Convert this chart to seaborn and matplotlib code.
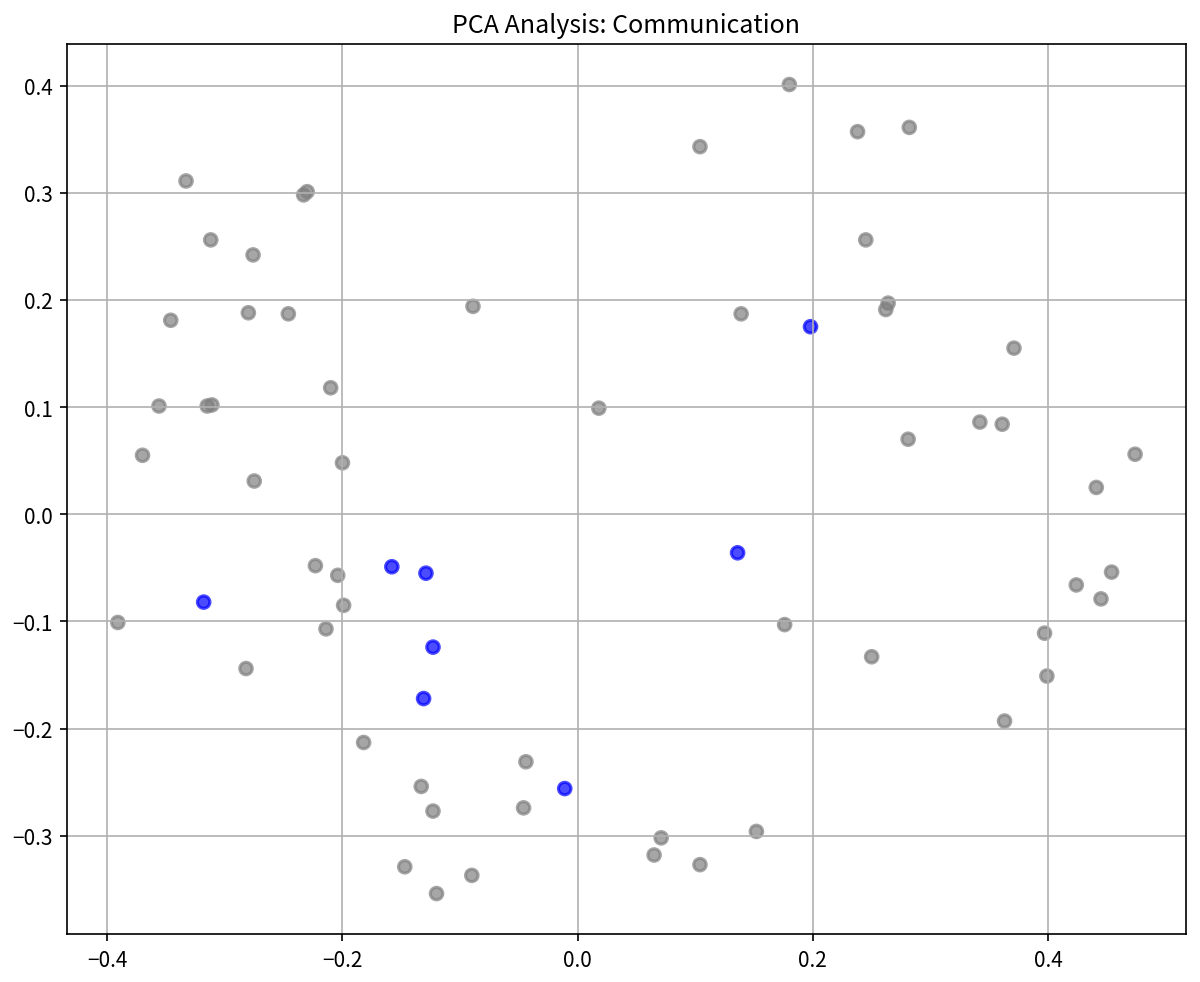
import pandas as pd
import seaborn as sns
import matplotlib
matplotlib.use('Agg')
import matplotlib.pyplot as plt

# PCA coordinates
other_x = [0.180, 0.104, 0.238, 0.282, 0.245, 0.139, 0.264, 0.262, 0.371, 0.342,
           0.361, 0.281, 0.474, 0.441, 0.018, -0.333, -0.233, -0.230, -0.312, -0.276,
           -0.346, -0.280, -0.246, -0.089, -0.210, -0.356, -0.315, -0.311, -0.370, -0.200,
           -0.275, -0.391, -0.282, -0.223, -0.204, -0.199, -0.214, -0.182, -0.044, -0.133,
           -0.123, -0.046, -0.147, -0.090, -0.120, 0.454, 0.424, 0.445, 0.176, 0.250,
           0.397, 0.399, 0.363, 0.071, 0.065, 0.104, 0.152]
other_y = [0.401, 0.343, 0.357, 0.361, 0.256, 0.187, 0.197, 0.191, 0.155, 0.086,
           0.084, 0.070, 0.056, 0.025, 0.099, 0.311, 0.298, 0.301, 0.256, 0.242,
           0.181, 0.188, 0.187, 0.194, 0.118, 0.101, 0.101, 0.102, 0.055, 0.048,
           0.031, -0.101, -0.144, -0.048, -0.057, -0.085, -0.107, -0.213, -0.231, -0.254,
           -0.277, -0.274, -0.329, -0.337, -0.354, -0.054, -0.066, -0.079, -0.103, -0.133,
           -0.111, -0.151, -0.193, -0.302, -0.318, -0.327, -0.296]

comm_x = [0.198, 0.136, -0.158, -0.129, -0.318, -0.123, -0.131, -0.011]
comm_y = [0.175, -0.036, -0.049, -0.055, -0.082, -0.124, -0.172, -0.256]

df = pd.DataFrame({
    'pc1': other_x + comm_x,
    'pc2': other_y + comm_y,
    'group': ['other'] * len(other_x) + ['Communication'] * len(comm_x),
})

plt.rcParams['font.family'] = ['Noto Sans CJK SC', 'DejaVu Sans']

fig, ax = plt.subplots(figsize=(8, 6.553), dpi=150)
sns.scatterplot(data=df, x='pc1', y='pc2', hue='group',
                palette={'other': 'gray', 'Communication': 'blue'},
                alpha=0.7, s=36, edgecolor='face', linewidth=1.5,
                legend=False, ax=ax)
ax.set_title('PCA Analysis: Communication')
ax.set_xlabel('')
ax.set_ylabel('')
ax.grid(True)
fig.subplots_adjust(left=0.0558, right=0.9883, top=0.9542, bottom=0.0488)
fig.savefig('out.png', dpi=150)
